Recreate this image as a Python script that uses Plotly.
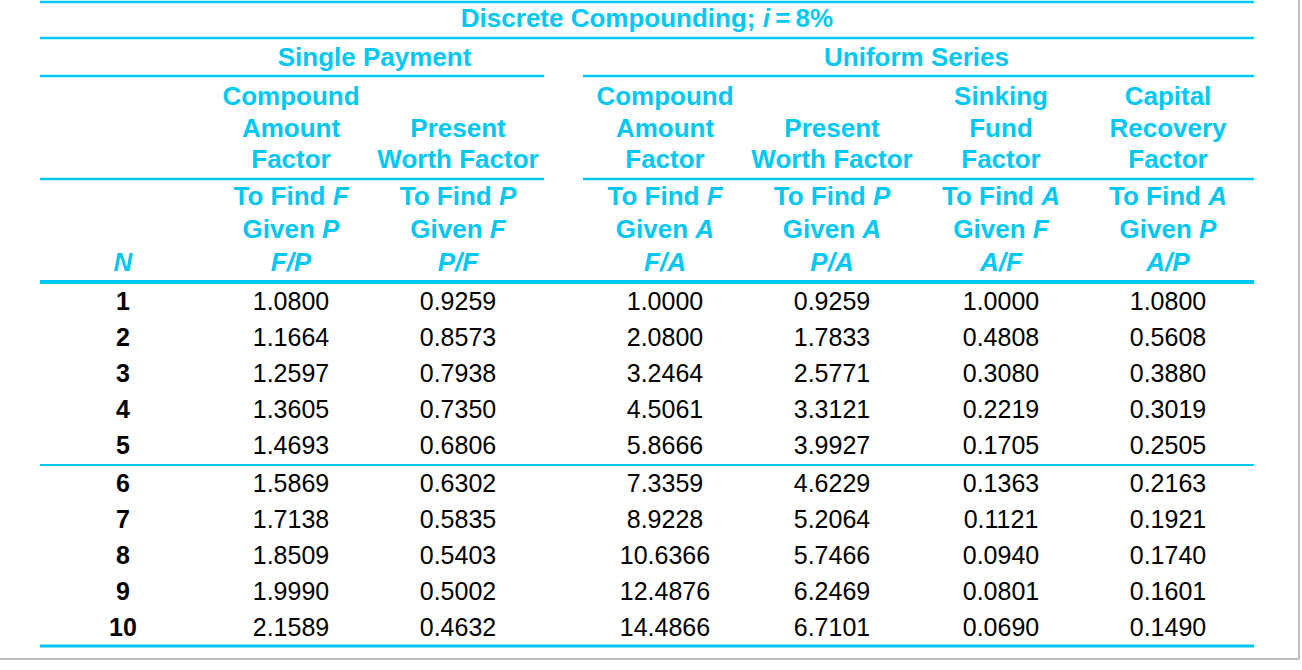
import plotly.graph_objects as go

# ---------------- data ----------------
N = [1, 2, 3, 4, 5, 6, 7, 8, 9, 10]
fp = ["1.0800", "1.1664", "1.2597", "1.3605", "1.4693", "1.5869", "1.7138", "1.8509", "1.9990", "2.1589"]
pf = ["0.9259", "0.8573", "0.7938", "0.7350", "0.6806", "0.6302", "0.5835", "0.5403", "0.5002", "0.4632"]
fa = ["1.0000", "2.0800", "3.2464", "4.5061", "5.8666", "7.3359", "8.9228", "10.6366", "12.4876", "14.4866"]
pa = ["0.9259", "1.7833", "2.5771", "3.3121", "3.9927", "4.6229", "5.2064", "5.7466", "6.2469", "6.7101"]
af = ["1.0000", "0.4808", "0.3080", "0.2219", "0.1705", "0.1363", "0.1121", "0.0940", "0.0801", "0.0690"]
ap = ["1.0800", "0.5608", "0.3880", "0.3019", "0.2505", "0.2163", "0.1921", "0.1740", "0.1601", "0.1490"]

title = "Discrete Compounding; <i>i</i>\u2009=\u20098%"
groups = ["Single Payment", "Uniform Series"]
head1 = ["Compound", "", "Compound", "", "Sinking", "Capital"]
head2 = ["Amount", "Present", "Amount", "Present", "Fund", "Recovery"]
head3 = ["Factor", "Worth Factor", "Factor", "Worth Factor", "Factor", "Factor"]
find_ = ["To Find <i>F</i>", "To Find <i>P</i>", "To Find <i>F</i>", "To Find <i>P</i>", "To Find <i>A</i>", "To Find <i>A</i>"]
given = ["Given <i>P</i>", "Given <i>F</i>", "Given <i>A</i>", "Given <i>A</i>", "Given <i>F</i>", "Given <i>P</i>"]
sym = ["<i>F/P</i>", "<i>P/F</i>", "<i>F/A</i>", "<i>P/A</i>", "<i>A/F</i>", "<i>A/P</i>"]

# ---------------- layout constants ----------------
CYAN = "#00C8F2"
FONT = "Liberation Sans, Arial, sans-serif"
col_x = [291, 458, 665, 832, 1001, 1168]
n_x = 123
left, right = 40, 1254
hs = 26  # header font size
ds = 25  # data font size

row_y = [304 + 36 * i + (2 if i >= 5 else 0) for i in range(len(N))]

fig = go.Figure()

def text_trace(xs, ys, texts, color, size, bold=False):
    t = [f"<b>{s}</b>" if (bold and s) else s for s in texts]
    fig.add_trace(go.Scatter(
        x=xs, y=ys, text=t, mode="text", textposition="middle center",
        textfont=dict(family=FONT, size=size, color=color),
        hoverinfo="skip", showlegend=False))

# headers
text_trace([(left + right) / 2], [20], [title], CYAN, hs, True)
text_trace([(col_x[0] + col_x[1]) / 2, (col_x[2] + col_x[5]) / 2], [59, 59], groups, CYAN, hs, True)
text_trace(col_x, [98] * 6, head1, CYAN, hs, True)
text_trace(col_x, [130] * 6, head2, CYAN, hs, True)
text_trace(col_x, [161] * 6, head3, CYAN, hs, True)
text_trace(col_x, [198] * 6, find_, CYAN, hs, True)
text_trace(col_x, [231] * 6, given, CYAN, hs, True)
text_trace([n_x] + col_x, [264] * 7, ["<i>N</i>"] + sym, CYAN, hs, True)

# data
text_trace([n_x] * len(N), row_y, [str(n) for n in N], "black", ds, True)
for cx, col in zip(col_x, [fp, pf, fa, pa, af, ap]):
    text_trace([cx] * len(col), row_y, col, "black", ds)

# rules
def hline(x0, x1, y, w):
    fig.add_shape(type="line", xref="x", yref="y", x0=x0, x1=x1, y0=y, y1=y,
                  line=dict(color=CYAN, width=w))

hline(left, right, 2, 2.5)
hline(left, right, 38, 2.5)
hline(left, 544, 76, 2.5)
hline(583, right, 76, 2.5)
hline(left, 544, 179, 2.5)
hline(583, right, 179, 2.5)
hline(left, right, 282, 4)
hline(left, right, 465, 2)
hline(left, right, 646, 3)

# outer grey frame (right and bottom)
fig.add_shape(type="line", xref="x", yref="y", x0=1299, x1=1299, y0=0, y1=659,
              line=dict(color="#BDBDBD", width=2))
fig.add_shape(type="line", xref="x", yref="y", x0=0, x1=1299, y0=659, y1=659,
              line=dict(color="#BDBDBD", width=2))

fig.update_xaxes(range=[0, 1302], visible=False, fixedrange=True)
fig.update_yaxes(range=[670, 0], visible=False, fixedrange=True)
fig.update_layout(width=1302, height=670, margin=dict(l=0, r=0, t=0, b=0),
                  plot_bgcolor="white", paper_bgcolor="white")

fig.write_html("out.html", config={"displayModeBar": False},
               post_script="document.body.style.margin='0';")
